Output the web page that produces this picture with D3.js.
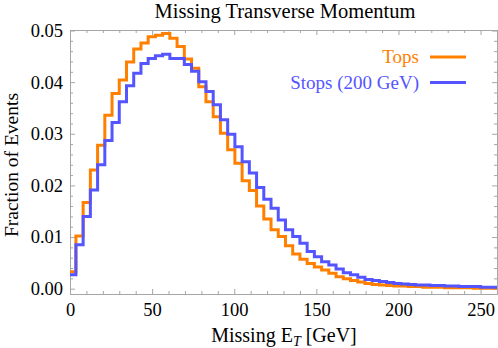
<!DOCTYPE html>
<html>
<head>
<meta charset="utf-8">
<script src="https://cdn.jsdelivr.net/npm/d3@7"></script>
<style>
  body { margin: 0; background: #fff; }
  text { font-family: 'Liberation Serif', 'Times New Roman', serif; }
</style>
</head>
<body>
<svg id="chart"></svg>
<script>
const width = 498
const height = 348
const margin = { top: 30, left: 70, bottom: 54, right: 1 }

// histogram binning (GeV): first partial bin, then fixed width bins
const firstEdge = 3.6
const binWidth = 4.4

const tops = [
  0.0033, 0.0102, 0.0167, 0.0230, 0.0278, 0.0336, 0.0378, 0.0404, 0.0439, 0.0464,
  0.0476, 0.0488, 0.0491, 0.0494, 0.0485, 0.0469, 0.0445, 0.0427, 0.0391, 0.0362,
  0.0333, 0.0301, 0.0269, 0.0243, 0.0209, 0.0190, 0.0160, 0.0135, 0.0114, 0.0101,
  0.0083, 0.0067, 0.0057, 0.0049, 0.0042, 0.0036, 0.0030, 0.0023, 0.0019, 0.0016,
  0.0013, 0.0010, 0.0008, 0.0007, 0.0006, 0.0005, 0.0005, 0.0004, 0.0004, 0.0003,
  0.0003, 0.0003, 0.0002, 0.0002, 0.0002, 0.0002, 0.0001, 0.0001, 0.0001
]

const stops = [
  0.0027, 0.0085, 0.0140, 0.0191, 0.0240, 0.0287, 0.0322, 0.0362, 0.0393, 0.0417,
  0.0436, 0.0446, 0.0451, 0.0454, 0.0446, 0.0446, 0.0434, 0.0421, 0.0401, 0.0382,
  0.0356, 0.0327, 0.0299, 0.0275, 0.0246, 0.0224, 0.0196, 0.0173, 0.0156, 0.0133,
  0.0114, 0.0101, 0.0088, 0.0072, 0.0062, 0.0052, 0.0046, 0.0038, 0.0031, 0.0027,
  0.0022, 0.0018, 0.0016, 0.0014, 0.0012, 0.0010, 0.0009, 0.0008, 0.0007, 0.0007,
  0.0006, 0.0006, 0.0005, 0.0005, 0.0004, 0.0004, 0.0004, 0.0003, 0.0003
]

const xTicks = [0, 50, 100, 150, 200, 250]
const yTicks = [0, 0.01, 0.02, 0.03, 0.04, 0.05]

const seriesNames = ['Tops', 'Stops (200 GeV)']
const seriesColors = ['#ff8000', '#5555ff']

const svg = d3.select('#chart')
  .attr('width', width)
  .attr('height', height)

const x = d3.scaleLinear().domain([0, 260]).range([margin.left, width - margin.right])
const y = d3.scaleLinear().domain([-0.00103, 0.0501]).range([height - margin.bottom, margin.top])

const binStart = i => i === 0 ? 0 : firstEdge + binWidth * (i - 1)

function stepPoints (values) {
  const pts = values.map((v, i) => [binStart(i), v])
  pts.push([260, values[values.length - 1]])
  return pts
}

const line = d3.line()
  .x(d => x(Math.min(d[0], 260)))
  .y(d => y(d[1]))
  .curve(d3.curveStepAfter)

const frameColor = '#a6a6a6'

// frame with inward ticks on all four sides
function addAxis (axis, transform) {
  const g = svg.append('g').attr('transform', transform).call(axis)
  g.select('.domain').attr('stroke', frameColor)
  g.selectAll('.tick line').attr('stroke', frameColor)
  g.selectAll('.tick text').attr('font-size', 18.5).attr('fill', '#000')
  return g
}

const xMinor = d3.range(0, 261, 10).filter(v => v % 50 !== 0)
const yMinor = d3.range(0, 51, 2).map(v => v / 1000).filter((v, i) => i % 5 !== 0)

const bottom = height - margin.bottom
const left = margin.left
const right = width - margin.right

addAxis(d3.axisBottom(x).tickValues(xTicks).tickSize(-5).tickPadding(9).tickSizeOuter(0), `translate(0,${bottom})`)
addAxis(d3.axisBottom(x).tickValues(xMinor).tickSize(-3).tickFormat('').tickSizeOuter(0), `translate(0,${bottom})`)
addAxis(d3.axisTop(x).tickValues(xTicks).tickSize(-5).tickFormat('').tickSizeOuter(0), `translate(0,${margin.top})`)
addAxis(d3.axisTop(x).tickValues(xMinor).tickSize(-3).tickFormat('').tickSizeOuter(0), `translate(0,${margin.top})`)
addAxis(d3.axisLeft(y).tickValues(yTicks).tickSize(-5).tickPadding(7).tickFormat(d3.format('.2f')).tickSizeOuter(0), `translate(${left},0)`)
addAxis(d3.axisLeft(y).tickValues(yMinor).tickSize(-3).tickFormat('').tickSizeOuter(0), `translate(${left},0)`)
addAxis(d3.axisRight(y).tickValues(yTicks).tickSize(-5).tickFormat('').tickSizeOuter(0), `translate(${right},0)`)
addAxis(d3.axisRight(y).tickValues(yMinor).tickSize(-3).tickFormat('').tickSizeOuter(0), `translate(${right},0)`)

svg.selectAll('.tick text').attr('font-family', "'Liberation Serif', serif")

svg.append('defs').append('clipPath').attr('id', 'plotClip')
  .append('rect')
  .attr('x', left).attr('y', margin.top)
  .attr('width', right - left).attr('height', bottom - margin.top)

const plot = svg.append('g').attr('clip-path', 'url(#plotClip)')

;[tops, stops].forEach((vals, i) => {
  plot.append('path')
    .attr('d', line(stepPoints(vals)))
    .attr('fill', 'none')
    .attr('stroke', seriesColors[i])
    .attr('stroke-width', 3)
    .attr('stroke-linejoin', 'miter')
})

// legend
const legend = svg.append('g')
seriesNames.forEach((name, i) => {
  const ly = 57 + i * 25.5
  legend.append('text')
    .attr('x', 419).attr('y', ly)
    .attr('dy', '0.33em')
    .attr('text-anchor', 'end')
    .attr('font-size', 19)
    .attr('fill', seriesColors[i])
    .text(name)
  legend.append('line')
    .attr('x1', 430).attr('x2', 466)
    .attr('y1', ly).attr('y2', ly)
    .attr('stroke', seriesColors[i])
    .attr('stroke-width', 3)
})

// titles
svg.append('text')
  .attr('x', 285).attr('y', 18)
  .attr('text-anchor', 'middle')
  .attr('font-size', 20.5)
  .text('Missing Transverse Momentum')

const xt = svg.append('text')
  .attr('x', 284).attr('y', 342)
  .attr('text-anchor', 'middle')
  .attr('font-size', 20)
xt.append('tspan').text('Missing E')
xt.append('tspan').attr('font-style', 'italic').attr('font-size', 14).attr('dy', 4).text('T')
xt.append('tspan').attr('dy', -4).text(' [GeV]')

svg.append('text')
  .attr('transform', 'translate(18,165) rotate(-90)')
  .attr('text-anchor', 'middle')
  .attr('font-size', 19.5)
  .text('Fraction of Events')
</script>
</body>
</html>
